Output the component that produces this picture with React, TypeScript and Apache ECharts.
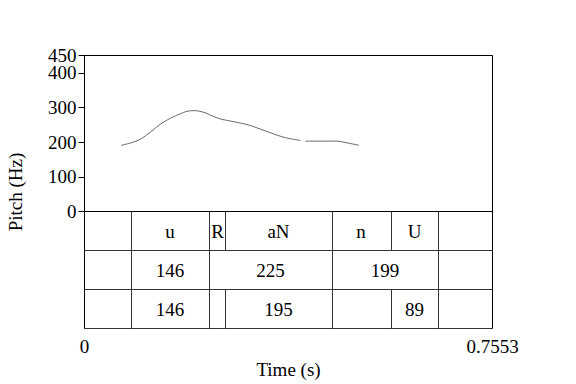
import React, { useEffect, useRef } from "react";
import * as echarts from "echarts";

const TOTAL_DURATION = 0.7553;

// Pitch contour (s, Hz); null marks an unvoiced gap
const pitchTimes = [0.0679, 0.0860, 0.1037, 0.1220, 0.1407, 0.1590, 0.1777, 0.1900, 0.2023, 0.2209, 0.2360, 0.2518, 0.2700, 0.2888, 0.3050, 0.3197, 0.3410, 0.3628, 0.3810, 0.3999, 0.4045, 0.4091, 0.4370, 0.4647, 0.4860, 0.5078];
const pitchHz = [191, 198, 209, 229, 252, 269, 282, 289, 291, 286, 276, 267, 261, 255, 249, 241, 229, 217, 210, 205, null, 203, 203, 203, 198, 191];

const yTicks = [0, 100, 200, 300, 400];
const yTopTick = [450];
const xTicks = [0, TOTAL_DURATION];
const xTickLabels = ["0", "0.7553"];

// TextGrid tiers: interval boundaries (s) and interval labels
const tier1Bounds = [0.0852, 0.2314, 0.2610, 0.4573, 0.5665, 0.6553];
const tier1Labels = ["", "u", "R", "aN", "n", "U", ""];
const tier2Bounds = [0.0852, 0.2314, 0.4573, 0.6553];
const tier2Labels = ["", "146", "225", "199", ""];
const tier3Bounds = [0.0852, 0.2314, 0.2610, 0.4573, 0.5665, 0.6553];
const tier3Labels = ["", "146", "", "195", "", "89", ""];

const FONT = "Liberation Serif";
const FS = 19;

function buildIntervals() {
  const tiers = [
    [tier1Bounds, tier1Labels],
    [tier2Bounds, tier2Labels],
    [tier3Bounds, tier3Labels],
  ] as const;
  const items: { value: number[]; text: string }[] = [];
  tiers.forEach(([bounds, labels], ti) => {
    const edges = [0, ...bounds, TOTAL_DURATION];
    for (let i = 0; i < edges.length - 1; i++) {
      items.push({ value: [edges[i], edges[i + 1], ti], text: labels[i] });
    }
  });
  return items;
}

export default function App() {
  const ref = useRef<HTMLDivElement>(null);
  useEffect(() => {
    if (!ref.current) return;
    const chart = echarts.init(ref.current, null, { renderer: "svg" });
    const intervals = buildIntervals();
    const pitchData = pitchTimes.map((t, i) => [t, pitchHz[i] === null ? "-" : pitchHz[i]]);
    const labelStyle = { color: "#000", fontFamily: FONT, fontSize: FS, margin: 8, hideOverlap: false };

    chart.setOption({
      animation: false,
      backgroundColor: "#fff",
      textStyle: { fontFamily: FONT },
      grid: [
        { left: 84.5, right: 83.5, top: 55.5, height: 156, show: true, borderColor: "#000", borderWidth: 1, containLabel: false },
        { left: 84.5, right: 83.5, top: 211.5, height: 117, show: true, borderColor: "#000", borderWidth: 1, containLabel: false },
      ],
      xAxis: [
        { type: "value", gridIndex: 0, min: 0, max: TOTAL_DURATION, show: false },
        {
          type: "value",
          gridIndex: 1,
          min: 0,
          max: TOTAL_DURATION,
          position: "bottom",
          axisLine: { show: true, lineStyle: { color: "#000", width: 1 } },
          axisTick: { show: true, length: 5, customValues: xTicks, lineStyle: { color: "#000" } },
          axisLabel: {
            ...labelStyle,
            show: true,
            customValues: xTicks,
            showMinLabel: true,
            showMaxLabel: true,
            formatter: (v: number) => (v === 0 ? xTickLabels[0] : xTickLabels[1]),
          },
          splitLine: { show: false },
          name: "Time (s)",
          nameLocation: "middle",
          nameGap: 31,
          nameTextStyle: { color: "#000", fontFamily: FONT, fontSize: FS },
        },
      ],
      yAxis: [
        {
          type: "value",
          gridIndex: 0,
          min: 0,
          max: 450,
          axisLine: { show: true, lineStyle: { color: "#000", width: 1 } },
          axisTick: { show: true, length: 6, customValues: yTicks, lineStyle: { color: "#000" } },
          axisLabel: { ...labelStyle, lineHeight: 15, show: true, customValues: yTicks, showMinLabel: true, showMaxLabel: true },
          splitLine: { show: false },
        },
        {
          type: "value",
          gridIndex: 1,
          min: 0,
          max: 3,
          interval: 1,
          inverse: true,
          axisLine: { show: false },
          axisTick: { show: false },
          axisLabel: { show: false },
          splitLine: { show: true, lineStyle: { color: "#333", width: 1 } },
        },
        {
          type: "value",
          gridIndex: 0,
          min: 0,
          max: 450,
          position: "left",
          axisLine: { show: false },
          axisTick: { show: true, length: 6, customValues: yTopTick, lineStyle: { color: "#000" } },
          axisLabel: { ...labelStyle, lineHeight: 15, show: true, customValues: yTopTick, showMinLabel: true, showMaxLabel: true },
          splitLine: { show: false },
        },
      ],
      graphic: [
        {
          type: "text",
          x: 15,
          y: 192,
          rotation: Math.PI / 2,
          style: {
            text: "Pitch (Hz)",
            fontFamily: FONT,
            fontSize: FS,
            fill: "#000",
            textAlign: "center",
            textVerticalAlign: "middle",
          },
        },
      ],
      series: [
        {
          type: "line",
          xAxisIndex: 0,
          yAxisIndex: 0,
          data: pitchData,
          smooth: 0.4,
          showSymbol: false,
          connectNulls: false,
          lineStyle: { color: "#666", width: 1 },
          silent: true,
        },
        {
          type: "custom",
          xAxisIndex: 1,
          yAxisIndex: 1,
          data: intervals.map((d) => d.value),
          silent: true,
          renderItem: (params: any, api: any) => {
            const start = api.value(0);
            const end = api.value(1);
            const tier = api.value(2);
            const p0 = api.coord([start, tier]);
            const p1 = api.coord([end, tier + 1]);
            const children: any[] = [];
            if (start > 0) {
              const x = Math.round(p0[0]) + 0.5;
              children.push({
                type: "line",
                shape: { x1: x, y1: p0[1], x2: x, y2: p1[1] },
                style: { stroke: "#333", lineWidth: 1 },
              });
            }
            const text = intervals[params.dataIndex].text;
            if (text) {
              children.push({
                type: "text",
                style: {
                  text,
                  x: (p0[0] + p1[0]) / 2,
                  y: (p0[1] + p1[1]) / 2,
                  textAlign: "center",
                  textVerticalAlign: "middle",
                  fontFamily: FONT,
                  fontSize: FS,
                  fill: "#000",
                },
              });
            }
            return { type: "group", children };
          },
        },
      ],
    });
    return () => chart.dispose();
  }, []);
  return <div ref={ref} style={{ width: 576, height: 384, position: "absolute", left: 0, top: 0 }} />;
}
